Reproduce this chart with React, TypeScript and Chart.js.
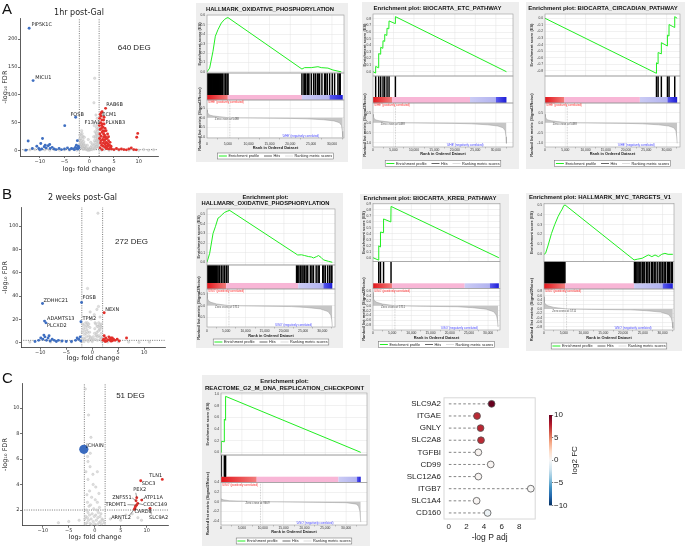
import React, { useEffect, useRef } from 'react';
import { Chart, registerables } from 'chart.js';

Chart.register(...registerables);

type P = [number, number];
type Lab = [string, number, number];

// ---------------- Volcano A (1hr post-Gal) ----------------
const volA_grey: P[] = [
  [-1.95, 20], [-1.9, 28], [-1.85, 7], [-1.8, 22], [-1.75, 16], [-1.7, 30], [-1.65, 11], [-1.6, 18], [-1.55, 36], [-1.5, 25],
  [-1.45, 31], [-1.4, 14], [-1.35, 5], [-1.3, 20], [-1.25, 26], [-1.2, 10], [-1.15, 3], [-1.1, 16], [-1.05, 12], [-1.0, 24],
  [-0.95, 6], [-0.9, 3], [-0.8, 5], [-0.7, 9], [-0.6, 2], [-0.5, 4], [-0.4, 10], [-0.3, 1], [-0.2, 2], [-0.1, 5], [0, 1],
  [0.1, 3], [0.2, 2], [0.3, 6], [0.4, 3], [0.5, 9], [0.6, 2], [0.7, 12], [0.8, 4], [0.9, 25], [1.0, 6], [1.0, 45], [1.05, 18],
  [1.1, 10], [1.15, 34], [1.2, 15], [0.95, 86], [1.25, 26], [1.3, 22], [1.35, 5], [1.4, 30], [1.1, 130], [1.45, 42], [1.5, 18],
  [1.5, 8], [1.55, 38], [1.6, 26], [1.6, 58], [1.65, 17], [1.7, 35], [1.7, 12], [1.75, 8], [1.8, 20], [1.8, 50], [1.85, 14],
  [1.9, 40], [1.9, 6], [1.95, 28], [-1.9, 12], [-1.7, 8], [-1.5, 5], [-1.3, 3], [-1.6, 12], [-1.4, 6], [-1.2, 4], [-1.0, 8],
  [1.1, 3], [1.3, 11], [1.5, 31], [1.7, 23], [1.9, 16], [1.6, 47], [1.35, 64], [-0.2, 20], [0.3, 15],
  [-13, 1], [-12, 1.5], [-11, 2], [-10, 1], [-9, 1.5], [-8, 1], [-7, 2], [-6, 1], [-5, 1.5], [-4, 1], [-3, 2], [-2.5, 1],
  [2.5, 1], [3, 2], [4, 1], [5, 1.5], [6, 1], [7, 2], [8, 1], [9, 1.5], [10, 1], [11, 2], [12, 1], [13, 1.5],
];
const volA_blue: P[] = [
  [-12.15, 219.7], [-11.35, 125.7], [-2.75, 60], [-4.96, 44.9], [-12.35, 17.4], [-9.45, 22],
  [-9.8, 13], [-10.6, 8], [-11.5, 4], [-10.2, 4], [-9.6, 3], [-9.1, 7], [-8.7, 5], [-8.3, 9], [-7.9, 4], [-7.5, 6],
  [-7.1, 3], [-6.7, 2], [-6.1, 4], [-5.6, 2], [-5.0, 3], [-4.4, 5], [-4.0, 2], [-3.6, 4], [-3.2, 3], [-2.8, 6], [-2.5, 4],
  [-2.2, 8], [-2.6, 10], [-3.0, 2], [-2.3, 3], [-10.0, 2], [-12.8, 1], [-8.0, 11], [-8.9, 10], [-2.4, 18], [-2.1, 5],
];
const volA_red: P[] = [
  [3.3, 76], [2.43, 68], [2.6, 70], [2.2, 65], [3.0, 60], [2.4, 62], [2.1, 58], [2.9, 55], [2.55, 55], [2.3, 50], [2.65, 48],
  [3.0, 48], [2.5, 45], [2.05, 45], [2.8, 42], [3.2, 40], [2.45, 40], [2.2, 38], [3.7, 30], [3.4, 36], [2.75, 36], [3.05, 35],
  [2.6, 33], [2.9, 30], [2.15, 30], [3.1, 28], [2.4, 26], [3.3, 25], [2.95, 24], [3.6, 22], [2.1, 22], [3.25, 20], [2.7, 20],
  [3.0, 18], [2.35, 18], [3.9, 18], [3.4, 15], [2.85, 14], [3.55, 14], [2.3, 14], [3.8, 12], [3.15, 12], [2.5, 10], [4.1, 10],
  [3.35, 9], [2.8, 8], [3.75, 8], [3.2, 6], [4.3, 6], [2.2, 5], [3.6, 4], [3.45, 4], [4.0, 3], [2.6, 2], [4.5, 3], [5.0, 2],
  [5.5, 4], [6.0, 2], [6.5, 3], [7.0, 2], [7.5, 1.5], [8.0, 3], [8.5, 5], [9.0, 2], [9.5, 1.5], [9.8, 31], [9.6, 24],
  [4.2, 15], [3.9, 25], [4.4, 8],
];
const volA_labels: Lab[] = [
  ['PIP5K1C', -11.7, 226], ['MICU1', -10.9, 131], ['FOSB', -3.8, 64], ['RAB6B', 3.43, 82],
  ['ECM1', 2.63, 64], ['F13A1', -0.94, 51], ['PLXNB3', 3.3, 51],
];
const volA_deg: Lab = ['640 DEG', 5.77, 185];
const volA_yTicks = [0, 50, 100, 150, 200];

// ---------------- Volcano B (2 weeks post-Gal) ----------------
const volB_grey: P[] = [
  [-1.85, 16], [-1.8, 2], [-1.7, 12], [-1.65, 4], [-1.6, 15], [-1.5, 7], [-1.45, 10], [-1.4, 3], [-1.3, 13], [-1.25, 17],
  [-1.2, 8], [-1.1, 5], [-1.05, 15], [-1.0, 11], [-0.95, 17], [-0.9, 2], [-0.85, 9], [-0.8, 14], [-0.7, 6], [-0.65, 16],
  [-0.6, 3], [-0.5, 9], [-0.45, 13], [-0.4, 5], [-0.3, 4], [-1.9, 9], [-1.55, 1], [-0.75, 1],
  [0.45, 8], [0.5, 12], [0.55, 17], [0.6, 3], [0.7, 16], [0.75, 6], [0.8, 7], [0.9, 9], [0.95, 14], [1.0, 2], [1.05, 5],
  [1.1, 14], [1.2, 10], [1.25, 17], [1.3, 6], [1.35, 12], [1.4, 15], [1.5, 11], [1.55, 3], [1.6, 5], [1.65, 14], [1.7, 16],
  [1.75, 8], [1.8, 13], [1.85, 1], [1.9, 4],
  [1.1, 111], [-0.9, 46.5], [0.9, 28.5], [1.2, 31], [-0.4, 26.4], [0.4, 24], [1.5, 22], [-0.2, 20],
  [0, 1], [0.1, 3], [-0.1, 2], [0.2, 5],
  [-12, 0.5], [-8, 0.5], [-6, 0.8], [-4, 0.5], [3, 0.5], [5, 0.8], [7, 0.5], [9, 0.3], [11, 0.5],
];
const volB_blue: P[] = [
  [-9.56, 33.6], [-9.17, 18.5], [-8.9, 17], [-2.05, 34.5], [-2.17, 17.9],
  [-10.3, 2], [-9.9, 4], [-9.5, 3], [-9.1, 5], [-8.8, 2], [-8.5, 4], [-8.1, 1.5], [-7.7, 3], [-7.3, 2], [-6.9, 1],
  [-6.5, 2], [-5.8, 1.5], [-5.0, 1], [-3.2, 2], [-2.9, 4], [-2.6, 3], [-2.3, 5], [-2.2, 1.5], [-11, 1], [-4, 1],
  [-8.3, 6], [-9.3, 6.5],
];
const volB_red: P[] = [
  [2.3, 25.6], [3.4, 2.5], [3.5, 3], [3.6, 2], [3.7, 3.5], [3.8, 2.5], [3.9, 3], [4.0, 2], [3.6, 4], [3.75, 1.5],
  [3.55, 1.5], [3.85, 4], [4.1, 3], [3.65, 2.8], [3.7, 2], [3.8, 3.2], [2.2, 3], [2.4, 2], [2.6, 4], [2.8, 1.5],
  [3.0, 2.5], [3.2, 5], [4.4, 2], [4.8, 3], [5.2, 1.5], [6.6, 4], [2.3, 6], [2.5, 1], [2.1, 2],
];
const volB_labels: Lab[] = [
  ['ZDHHC21', -9.36, 35.6], ['ADAMTS13', -8.7, 20.8], ['PLCXD2', -8.7, 14.4],
  ['FOSB', -1.86, 38.5], ['TPM2', -1.86, 20.8], ['NEXN', 2.5, 27.9],
];
const volB_deg: Lab = ['272 DEG', 4.4, 86.5];
const volB_yTicks = [0, 20, 40, 60, 80, 100];

// ---------------- Volcano C ----------------
const volC_grey: P[] = [
  [-1.82, 11.5], [-1.2, 9.45], [-0.73, 7.7], [-0.86, 6.45], [-1.38, 6.2], [-1.3, 5.8], [-0.9, 5.4], [-1.7, 5.0], [-0.35, 4.8],
  [-1.3, 4.4], [0.5, 5.0], [-0.3, 4.0], [0.2, 3.8], [-1.0, 3.5], [-1.5, 3.2], [0.8, 3.3], [-0.6, 3.0], [0.1, 2.8], [-1.4, 2.6],
  [0.5, 2.6], [-0.8, 2.4], [-1.1, 2.3], [0.9, 2.2], [-0.2, 2.1], [-1.6, 2.0], [0.4, 2.0], [-1.3, 1.8], [0.7, 1.8], [-0.5, 1.7],
  [1.2, 1.7], [-1.0, 1.6], [0.2, 1.6], [-1.7, 1.5], [-0.1, 1.5], [1.0, 1.5], [-1.4, 1.4], [0.6, 1.4], [-0.7, 1.3], [1.4, 1.3],
  [-1.2, 1.2], [0.3, 1.2], [-0.3, 1.1], [1.1, 1.1], [-1.5, 1.0], [0.8, 1.0], [-0.9, 0.95], [0.0, 0.9], [1.3, 0.9], [-1.8, 0.9],
  [-0.6, 0.85], [0.5, 0.85], [1.6, 1.2], [1.8, 1.0], [-1.9, 1.3],
  [3, 1.3], [4, 1.5], [5, 1.2], [6, 1.6], [7.2, 1.7], [8.3, 1.4], [9, 1.2], [-3, 1.2], [-5, 1.1], [-7, 1.0],
];
const volC_blue: P[] = [[-2.1, 6.76]];
const volC_red: P[] = [
  [13.0, 4.4], [8.85, 4.3], [8.08, 2.97], [9.04, 2.78], [7.95, 2.73], [8.27, 2.52], [8.08, 2.39], [7.76, 2.16],
  [7.63, 2.06], [10.63, 2.13], [7.85, 2.3],
];
const volC_labels: Lab[] = [
  ['JCHAIN', -1.63, 7.02], ['TLN1', 10.5, 4.67], ['SDC3', 9.04, 4.1], ['PEX2', 7.43, 3.57], ['ATP11A', 9.48, 3.0],
  ['ZNF551', 3.35, 3.0], ['CCDC149', 9.35, 2.39], ['TRDMT1', 2.07, 2.45], ['CARD8', 7.63, 1.84],
  ['ARNTL2', 3.16, 1.4], ['SLC9A2', 10.44, 1.4],
];
const volC_leaders: [number, number, number, number][] = [
  [7.9, 3.35, 8.08, 2.97], [7.2, 2.95, 7.95, 2.73], [6.3, 2.42, 8.08, 2.39], [9.3, 2.42, 8.27, 2.52],
  [6.6, 1.55, 7.63, 2.06], [10.9, 1.65, 10.63, 2.13], [7.9, 2.0, 7.76, 2.16], [9.45, 2.95, 9.04, 2.78],
];
const volC_deg: Lab = ['51 DEG', 4.12, 10.96];
const volC_yTicks = [2, 4, 6, 8, 10];
const volXTicks = [-10, -5, 0, 5, 10];

// ---------------- GSEA curves ----------------
const gA1_es: P[] = [[0, 0], [640, 0.04], [1440, 0.22], [2000, 0.38], [2640, 0.45], [3440, 0.52], [4240, 0.56], [4800, 0.575],
  [5040, 0.578], [22800, 0.03], [23440, 0.045], [25040, 0.045], [26640, 0.055], [27440, 0.045], [29040, 0.04], [30240, 0.02], [32240, 0]];
const gA1_hits: number[] = [40, 190, 330, 520, 610, 780, 905, 1080, 1220, 1390, 1530, 1660, 1850, 1990, 2140, 2310, 2450, 2600,
  2790, 2930, 3100, 3260, 3420, 3700, 4090, 4470, 4810, 5050, 22800, 23280, 23450, 23680, 24080, 24300, 24480, 25040, 25600,
  26000, 26480, 26700, 27040, 27600, 28240, 28500, 28880, 29440, 30080, 30640, 31440, 31800, 32000];
const gA2_es: P[] = [[0, 0], [600, -0.02], [650, 0.08], [1340, 0.06], [1390, 0.275], [1830, 0.265], [1880, 0.37], [2400, 0.355],
  [2450, 0.47], [2810, 0.46], [2860, 0.565], [3380, 0.55], [3430, 0.66], [3870, 0.65], [3920, 0.77], [5420, 0.73], [5470, 0.835], [32600, 0]];
const gA2_hits: number[] = [650, 1390, 1880, 2450, 2860, 3430, 3920, 5470];
const gA3_es: P[] = [[0, 0], [27480, -0.835], [27500, -0.675], [27880, -0.69], [27900, -0.52], [28680, -0.54], [28700, -0.37],
  [30180, -0.42], [30200, -0.255], [30580, -0.27], [30600, -0.095], [31980, -0.14], [32000, 0.025], [32600, 0]];
const gA3_hits: number[] = [27500, 27900, 28700, 30200, 30600, 32000];
const gA_rank: P[] = [[0, 0.42], [100, 0.3], [300, 0.2], [700, 0.14], [1500, 0.1], [3000, 0.06], [5488, 0], [10000, -0.01],
  [20000, -0.03], [24000, -0.05], [28000, -0.1], [30500, -0.16], [31800, -0.25], [32300, -0.4], [32500, -0.7], [32600, -1.02]];

const gB1_es: P[] = [[0, 0], [700, 0.094], [1570, 0.3], [2175, 0.37], [2870, 0.46], [3300, 0.47], [3740, 0.49], [4610, 0.52],
  [5480, 0.535], [5700, 0.545], [23600, 0.076], [24600, 0.078], [25400, 0.07], [26360, 0.06], [27200, 0.055], [27700, 0.045],
  [28540, 0.06], [29000, 0.07], [29700, 0.05], [30300, 0.025], [31600, 0.01], [32600, 0]];
const gB1_hits: number[] = [30, 150, 290, 400, 560, 690, 820, 960, 1080, 1230, 1350, 1500, 1640, 1760, 1900, 2050, 2180, 2330,
  2470, 2620, 2900, 3300, 3740, 4170, 4610, 5050, 5480, 23300, 23600, 23900, 24300, 24700, 25000, 25400, 25800, 26200, 26900,
  27300, 27700, 28400, 28900, 29200, 30100, 30400, 30800, 31400, 31900, 32300, 32500];
const gB2_es: P[] = [[0, 0], [1450, -0.04], [1500, 0.2], [1900, 0.18], [1950, 0.43], [2700, 0.42], [2750, 0.65], [4650, 0.6],
  [4700, 0.86], [32800, 0]];
const gB2_hits: number[] = [1500, 1950, 2750, 4700];
const gB3_es: P[] = [[0, 0], [400, 0.01], [1070, 0.095], [1890, 0.21], [2700, 0.3], [3530, 0.38], [4180, 0.43], [4500, 0.45],
  [5000, 0.493], [5330, 0.5], [22800, -0.057], [23600, -0.05], [24850, -0.04], [26100, -0.013], [26500, -0.007], [27300, -0.024],
  [28100, -0.007], [28950, -0.024], [29800, 0.0], [30600, 0.01], [31400, 0.0], [32600, 0]];
const gB3_hits: number[] = [20, 160, 300, 470, 600, 760, 900, 1050, 1200, 1330, 1490, 1620, 1780, 1930, 2060, 2210, 2380, 2520,
  2650, 2810, 2950, 3100, 3260, 3400, 3560, 3700, 3850, 4010, 4160, 4300, 4470, 4620, 4780, 4950, 5100, 5300, 22900, 23200,
  23500, 23800, 24100, 24500, 24900, 25100, 25500, 26000, 26300, 26700, 27200, 27500, 27900, 28300, 28800, 29300, 29600, 30000,
  30400, 30700, 31200, 31500, 31800, 32200, 32500];
const gB_rank: P[] = [[0, 0.55], [100, 0.3], [400, 0.2], [1000, 0.14], [2500, 0.07], [5711, 0], [12000, -0.02], [22000, -0.04],
  [26000, -0.08], [29500, -0.14], [31500, -0.25], [32200, -0.4], [32450, -0.6], [32600, -0.88]];

const gC_es: P[] = [[0, 0], [70, 0], [90, 0.19], [780, 0.18], [800, 0.57], [1080, 0.55], [1100, 0.96], [33500, 0]];
const gC_hits: number[] = [90, 800, 1000, 1100];
const gC_rank: P[] = [[0, 0.06], [500, 0.04], [2000, 0.02], [9469, 0], [20000, -0.01], [30000, -0.02], [32500, -0.05],
  [33000, -0.1], [33300, -0.2], [33500, -0.42]];

// colour-bar boundaries (rank where red ends, pink ends, lavender ends, blue ends)
const gA1_bar = [5000, 22800, 29400, 32600];
const gA2_bar = [4650, 23700, 30000, 32600];
const gA3_bar = [4800, 23400, 30200, 32600];
const gB1_bar = [5000, 23750, 30270, 32600];
const gB2_bar = [4960, 23900, 30450, 32800];
const gB3_bar = [5330, 22800, 30000, 32600];
const gC_bar = [8560, 28160, 32560, 33500];
const zeroA = 5488;
const zeroB = 5711;
const zeroC = 9469;

// tick labels
const gXTicks = [0, 5000, 10000, 15000, 20000, 25000, 30000];
const esTicksA1 = [0, 0.1, 0.2, 0.3, 0.4, 0.5, 0.6];
const esTicksA2 = [0, 0.1, 0.2, 0.3, 0.4, 0.5, 0.6, 0.7, 0.8];
const esTicksA3 = [-0.8, -0.7, -0.6, -0.5, -0.4, -0.3, -0.2, -0.1, 0];
const esTicksB1 = [0, 0.1, 0.2, 0.3, 0.4, 0.5];
const esTicksB2 = [0, 0.1, 0.2, 0.3, 0.4, 0.5, 0.6, 0.7, 0.8, 0.9];
const esTicksB3 = [0, 0.1, 0.2, 0.3, 0.4, 0.5];
const esTicksC = [0, 0.2, 0.4, 0.6, 0.8, 1.0];
const rkTicksA = [-1.0, -0.5, 0, 0.5];
const rkTicksB1 = [-0.5, 0, 0.5];
const rkTicksB2 = [-0.8, -0.6, -0.4, -0.2, 0, 0.2, 0.4, 0.6];
const rkTicksB3 = [-0.8, -0.6, -0.4, -0.2, 0, 0.2, 0.4, 0.6, 0.8];
const rkTicksC = [-0.4, -0.2, 0, 0.2, 0.4];

// ---------------- Lollipop ----------------
const lolGenes = ['SLC9A2', 'ITGAE', 'GNLY', 'SLC2A8', 'TGFBI', 'CD99', 'SLC12A6', 'ITGB7', 'SLC1A4', 'CD160'];
const lolNegLogP = [4.85, 3.2, 3.6, 3.65, 3.35, 4.75, 3.35, 9.3, 3.15, 4.4];
const lolLog2FC = [10, 7.5, 7.6, 7.5, 0.3, 0.2, 0.2, 0.1, 0.2, -0.6];
const lolXTicks = [0, 2, 4, 6, 8];
const cbTicks = [-10, -5, 0, 5, 10];

// ---------------- styling ----------------
const FV = 'DejaVu Sans';
const FS = 'Liberation Sans';
const BAR_COLORS = [['#e3161b', '#f27d7d'], ['#f8b6d6', '#f8b6d6'], ['#cbcbf4', '#b2b3f0'], ['#5b5bef', '#1d1dd6']];
const RDBU = ['#053061', '#2166ac', '#4393c3', '#92c5de', '#d1e5f0', '#f7f7f7', '#fddbc7', '#f4a582', '#d6604d', '#b2182b', '#67001f'];

const xy = (a: P[]) => a.map(([x, y]) => ({ x, y }));
const minus = (v: any) => (Number(v) < 0 ? '\u2212' + Math.abs(Number(v)) : String(v));
const fixTicks = (arr: number[]) => (s: any) => { s.ticks = arr.map((value) => ({ value })); };
const hex = (h: string) => [1, 3, 5].map((i) => parseInt(h.slice(i, i + 2), 16));
function rdbu(v: number) {
  const t = Math.min(1, Math.max(0, (v + 10) / 20)) * 10;
  const i = Math.min(9, Math.floor(t));
  const f = t - i;
  const a = hex(RDBU[i]);
  const b = hex(RDBU[i + 1]);
  return `rgb(${a.map((c, k) => Math.round(c + (b[k] - c) * f)).join(',')})`;
}

const base = { responsive: false, animation: false, events: [] as any[] };

// ---------------- Volcano ----------------
function annot(v: any) {
  return {
    id: 'annot',
    afterDatasetsDraw(chart: any) {
      const { ctx, scales } = chart;
      const x = scales.x, y = scales.y;
      ctx.save();
      ctx.strokeStyle = '#333';
      ctx.lineWidth = 0.5;
      for (const [x1, y1, x2, y2] of v.leaders || []) {
        ctx.beginPath();
        ctx.moveTo(x.getPixelForValue(x1), y.getPixelForValue(y1));
        ctx.lineTo(x.getPixelForValue(x2), y.getPixelForValue(y2));
        ctx.stroke();
      }
      ctx.fillStyle = '#222';
      ctx.font = `5px "${FV}"`;
      ctx.textBaseline = 'middle';
      ctx.textAlign = 'left';
      for (const [t, lx, ly] of v.labels) ctx.fillText(t, x.getPixelForValue(lx), y.getPixelForValue(ly));
      ctx.font = `8px "${FS}"`;
      ctx.fillText(v.deg[0], x.getPixelForValue(v.deg[1]), y.getPixelForValue(v.deg[2]));
      ctx.restore();
    },
  };
}

function volcano(v: any) {
  const thr = (pts: P[]) => ({ data: xy(pts), showLine: true, borderColor: '#555', borderWidth: 0.8, borderDash: [1, 1.3], pointRadius: 0 });
  const datasets: any[] = [];
  if (v.big) datasets.push({ data: xy(v.big), pointRadius: 4.6, backgroundColor: '#3a6bbf', borderWidth: 0 });
  datasets.push(
    { data: xy(v.red), pointRadius: 1.45, backgroundColor: '#e2302b', borderWidth: 0 },
    { data: xy(v.blue), pointRadius: 1.45, backgroundColor: '#3f6fc1', borderWidth: 0 },
    { data: xy(v.grey), pointRadius: 1.25, backgroundColor: 'rgba(212,212,212,0.75)', borderColor: 'rgba(165,165,165,0.7)', borderWidth: 0.3 },
    thr([[-2, v.yMin], [-2, v.yMax]]),
    thr([[2, v.yMin], [2, v.yMax]]),
    thr([[v.xMin, v.hLine], [v.xMax, v.hLine]]),
  );
  const tickFont = { family: FV, size: 5 };
  return {
    type: 'scatter',
    data: { datasets },
    options: {
      ...base,
      layout: { padding: v.pad },
      plugins: {
        legend: { display: false },
        tooltip: { enabled: false },
        title: v.title
          ? { display: true, text: v.title, color: '#222', font: { family: FV, size: 8, weight: 'normal', lineHeight: 1 }, padding: v.titlePad }
          : { display: false },
      },
      scales: {
        x: {
          type: 'linear', min: v.xMin, max: v.xMax,
          afterBuildTicks: fixTicks(volXTicks),
          ticks: { font: tickFont, color: '#333', padding: 0.5, maxRotation: 0, autoSkip: false, callback: minus },
          grid: { display: true, drawOnChartArea: false, tickLength: 2, color: '#333', lineWidth: 0.7 },
          border: { display: true, color: '#333', width: 0.8 },
          title: { display: true, text: 'log\u2082 fold change', color: '#222', font: { family: FV, size: 6.5, lineHeight: 1 }, padding: { top: 0, bottom: 2 } },
          afterFit: (s: any) => { s.height = v.xH; },
        },
        y: {
          type: 'linear', min: v.yMin, max: v.yMax,
          afterBuildTicks: fixTicks(v.yTicks),
          ticks: { font: tickFont, color: '#333', padding: 0.5, autoSkip: false, callback: minus },
          grid: { display: true, drawOnChartArea: false, tickLength: 2, color: '#333', lineWidth: 0.7 },
          border: { display: true, color: '#333', width: 0.8 },
          title: { display: true, text: '-log\u2081\u2080 FDR', color: '#222', font: { family: FV, size: 6.5, lineHeight: 1 }, padding: { top: 1.8, bottom: 0 } },
          afterFit: (s: any) => { s.width = v.yW; },
        },
      },
    },
    plugins: [annot(v)],
  };
}

const VA = {
  grey: volA_grey, blue: volA_blue, red: volA_red, labels: volA_labels, deg: volA_deg, yTicks: volA_yTicks,
  xMin: -14, xMax: 13.9, yMin: -9.5, yMax: 238, hLine: 2,
  title: '1hr post-Gal', titlePad: { top: 9.3, bottom: 0.7 }, pad: { left: 0, top: 0, right: 17, bottom: 0 }, yW: 20, xH: 19,
};
const VB = {
  grey: volB_grey, blue: volB_blue, red: volB_red, labels: volB_labels, deg: volB_deg, yTicks: volB_yTicks,
  xMin: -13.7, xMax: 14.0, yMin: -4.3, yMax: 116.3, hLine: 2,
  title: '2 weeks post-Gal', titlePad: { top: 8.3, bottom: 4.7 }, pad: { left: 0, top: 0, right: 10, bottom: 0 }, yW: 21, xH: 16.3,
};
const VC = {
  grey: volC_grey, blue: [] as P[], big: volC_blue, red: volC_red, labels: volC_labels, leaders: volC_leaders, deg: volC_deg, yTicks: volC_yTicks,
  xMin: -14, xMax: 14.1, yMin: 0.77, yMax: 11.94, hLine: 2,
  title: '', pad: { left: 0, top: 13.3, right: 7, bottom: 0 }, yW: 22, xH: 17.3,
};

// ---------------- GSEA ----------------
function gseaPlugin(g: any) {
  return {
    id: 'gsea',
    beforeDraw(chart: any) {
      const { ctx, chartArea: a, width, height } = chart;
      ctx.save();
      ctx.fillStyle = '#eeeeee';
      ctx.fillRect(0, 0, width, height);
      ctx.fillStyle = '#ffffff';
      ctx.fillRect(a.left, a.top, a.right - a.left, a.bottom - a.top);
      ctx.restore();
    },
    beforeDatasetsDraw(chart: any) {
      const { ctx, scales: s } = chart;
      const x = s.x, yE = s.yES, yB = s.yBar, yR = s.yRank;
      ctx.save();
      ctx.strokeStyle = '#e3e3e3';
      ctx.lineWidth = 0.5;
      ctx.beginPath();
      for (const t of x.ticks) {
        const px = x.getPixelForValue(t.value);
        ctx.moveTo(px, yE.top); ctx.lineTo(px, yE.bottom);
        ctx.moveTo(px, yR.top); ctx.lineTo(px, yR.bottom);
      }
      ctx.stroke();
      const edges = [0, ...g.bar];
      for (let i = 0; i < 4; i++) {
        const x1 = x.getPixelForValue(edges[i]);
        const x2 = x.getPixelForValue(edges[i + 1]);
        const gr = ctx.createLinearGradient(x1, 0, x2, 0);
        gr.addColorStop(0, BAR_COLORS[i][0]);
        gr.addColorStop(1, BAR_COLORS[i][1]);
        ctx.fillStyle = gr;
        ctx.fillRect(x1, yB.top, x2 - x1, yB.bottom - yB.top);
      }
      const zx = x.getPixelForValue(g.zero);
      ctx.strokeStyle = '#999';
      ctx.setLineDash([0.8, 0.8]);
      ctx.beginPath(); ctx.moveTo(zx, yR.top); ctx.lineTo(zx, yR.bottom); ctx.stroke();
      ctx.setLineDash([]);
      ctx.restore();
    },
    afterDatasetsDraw(chart: any) {
      const { ctx, chartArea: a, scales: s } = chart;
      const x = s.x, yE = s.yES, yH = s.yHit, yB = s.yBar, yR = s.yRank;
      ctx.save();
      ctx.strokeStyle = '#9c9c9c';
      ctx.lineWidth = 0.6;
      const rects = [[yE.top, yE.bottom], [yH.top, yB.bottom], [yR.top, yR.bottom]];
      for (const [t, b] of rects) ctx.strokeRect(a.left, t, a.right - a.left, b - t);
      ctx.font = `2.9px "${FS}"`;
      ctx.textBaseline = 'middle';
      ctx.fillStyle = '#ff2a2a'; ctx.textAlign = 'left';
      ctx.fillText(g.pos, a.left + 1, yR.top + 2.5);
      ctx.fillStyle = '#4646ff'; ctx.textAlign = 'center';
      ctx.fillText(g.neg, x.getPixelForValue(22500), yR.bottom - 2);
      ctx.fillStyle = '#555'; ctx.textAlign = 'left';
      ctx.fillText('Zero cross at ' + g.zero, x.getPixelForValue(g.zero - 3600), yR.getPixelForValue(0) + 1.8);
      ctx.fillStyle = '#333';
      ctx.font = `bold 4px "${FS}"`;
      ctx.textAlign = 'center';
      const rot = (t: string, cy: number) => {
        ctx.save(); ctx.translate(g.yTX, cy); ctx.rotate(-Math.PI / 2); ctx.fillText(t, 0, 0); ctx.restore();
      };
      rot('Enrichment score (ES)', (yE.top + yE.bottom) / 2);
      rot('Ranked list metric (Signal2Noise)', (yR.top + yR.bottom) / 2);
      ctx.restore();
    },
    afterDraw(chart: any) {
      const { ctx, chartArea: a } = chart;
      ctx.save();
      ctx.font = `3.8px "${FS}"`;
      ctx.textBaseline = 'middle';
      ctx.textAlign = 'left';
      const items: [string, string, number][] = [['#22ee22', 'Enrichment profile', 1], ['#000000', 'Hits', 0.6], ['#c4c4c4', 'Ranking metric scores', 0.6]];
      const lw = 8, gap = 1.5, sep = 5, pad = 1.2;
      const ws = items.map((i) => ctx.measureText(i[1]).width);
      let total = pad * 2;
      ws.forEach((w, i) => { total += lw + gap + w + (i ? sep : 0); });
      const cy = g.legY;
      let cx = (a.left + a.right) / 2 - total / 2;
      ctx.strokeStyle = '#666'; ctx.lineWidth = 0.5;
      ctx.fillStyle = '#fff';
      ctx.fillRect(cx, cy - 3, total, 6);
      ctx.strokeRect(cx, cy - 3, total, 6);
      cx += pad;
      items.forEach(([col, t, w], i) => {
        if (i) cx += sep;
        ctx.strokeStyle = col; ctx.lineWidth = w;
        ctx.beginPath(); ctx.moveTo(cx, cy); ctx.lineTo(cx + lw, cy); ctx.stroke();
        cx += lw + gap;
        ctx.fillStyle = '#222';
        ctx.fillText(t, cx, cy);
        cx += ws[i];
      });
      ctx.restore();
    },
  };
}

function gsea(g: any) {
  const tickFont = { family: FS, size: 3.3 };
  const yCommon = (w: number) => ({
    type: 'linear', position: 'left', stack: 'g', stackWeight: w, border: { display: false },
    afterFit: (s: any) => { s.width = g.yW; },
  });
  const hidden = (w: number) => ({ ...yCommon(w), min: 0, max: 1, ticks: { display: false }, grid: { display: false, drawTicks: false } });
  const valAxis = (w: number, r: number[], ticks: number[]) => ({
    ...yCommon(w), min: r[0], max: r[1],
    afterBuildTicks: fixTicks(ticks),
    ticks: { autoSkip: false, font: tickFont, color: '#333', padding: 0.5, callback: (v: any) => Number(v).toFixed(1) },
    grid: { color: '#e3e3e3', lineWidth: 0.5, tickLength: 1.5 },
  });
  return {
    type: 'line',
    data: {
      datasets: [
        { type: 'line', data: xy(g.es), yAxisID: 'yES', borderColor: '#22ee22', borderWidth: 1, pointRadius: 0, tension: 0, fill: false },
        { type: 'bar', data: g.hits.map((h: number) => ({ x: h, y: [0, 1] })), yAxisID: 'yHit', backgroundColor: '#000', barThickness: 0.8, borderWidth: 0 },
        { type: 'line', data: xy(g.rank), yAxisID: 'yRank', borderColor: '#9a9a9a', borderWidth: 0.5, backgroundColor: '#c6c6c6', fill: 'origin', pointRadius: 0, tension: 0 },
      ],
    },
    options: {
      ...base,
      layout: { padding: { left: 0, top: 0, right: g.padR, bottom: g.legH } },
      plugins: {
        legend: { display: false },
        tooltip: { enabled: false },
        title: { display: true, text: g.title, color: '#111', font: { family: FS, size: g.tSize, weight: 'bold', lineHeight: 1.1 }, padding: { top: g.tPad[0], bottom: g.tPad[1] } },
      },
      scales: {
        x: {
          type: 'linear', min: 0, max: g.xMax, offset: false,
          afterBuildTicks: fixTicks(gXTicks),
          ticks: { autoSkip: false, font: tickFont, color: '#333', padding: g.xTP, maxRotation: 0, callback: (v: any) => Number(v).toLocaleString('en-US') },
          grid: { display: true, drawOnChartArea: false, tickLength: 1.5, color: '#888', lineWidth: 0.5 },
          border: { display: false },
          title: { display: true, text: 'Rank in Ordered Dataset', color: '#222', font: { family: FS, size: 3.9, weight: 'bold', lineHeight: 1 }, padding: { top: 0, bottom: g.xTB } },
          afterFit: (s: any) => { s.height = g.xH; },
        },
        yRank: valAxis(g.w[3], g.rankAxis, g.rankTicks),
        yBar: hidden(g.w[2]),
        yHit: hidden(g.w[1]),
        yES: valAxis(g.w[0], g.esAxis, g.esTicks),
      },
    },
    plugins: [gseaPlugin(g)],
  };
}

const GA1 = { box: [196, 3, 152, 159], title: 'HALLMARK_OXIDATIVE_PHOSPHORYLATION', tSize: 5.8, tPad: [3, 2.6], yW: 11, padR: 4, legH: 10, xH: 14, xTP: 2.5, xTB: 1.75,
  w: [58, 22, 5, 38], xMax: 32900, es: gA1_es, hits: gA1_hits, rank: gA_rank, esAxis: [-0.012, 0.606], rankAxis: [-1.05, 0.93], esTicks: esTicksA1, rankTicks: rkTicksA,
  bar: gA1_bar, zero: zeroA, pos: "'0/HE' (positively correlated)", neg: "'0/HE' (negatively correlated)", yTX: 4, legY: 153 };
const GA2 = { box: [362, 2, 157, 167], title: 'Enrichment plot: BIOCARTA_ETC_PATHWAY', tSize: 6, tPad: [3, 2.4], yW: 11, padR: 6, legH: 8, xH: 14, xTP: 0, xTB: 5,
  w: [62, 21, 6, 44], xMax: 34200, es: gA2_es, hits: gA2_hits, rank: gA_rank, esAxis: [-0.065, 0.875], rankAxis: [-1.2, 0.98], esTicks: esTicksA2, rankTicks: rkTicksA,
  bar: gA2_bar, zero: zeroA, pos: "'0/HE' (positively correlated)", neg: "'0/HE' (negatively correlated)", yTX: 3, legY: 161.5 };
const GA3 = { box: [526, 2, 159, 167], title: 'Enrichment plot: BIOCARTA_CIRCADIAN_PATHWAY', tSize: 6, tPad: [3, 2.4], yW: 19, padR: 5, legH: 8, xH: 14, xTP: 0, xTB: 5,
  w: [62, 21, 6, 44], xMax: 33300, es: gA3_es, hits: gA3_hits, rank: gA_rank, esAxis: [-0.876, 0.065], rankAxis: [-1.2, 0.98], esTicks: esTicksA3, rankTicks: rkTicksA,
  bar: gA3_bar, zero: zeroA, pos: "'0/HE' (positively correlated)", neg: "'0/HE' (negatively correlated)", yTX: 5.7, legY: 161.5 };
const GB1 = { box: [196, 193, 147, 155], title: ['Enrichment plot:', 'HALLMARK_OXIDATIVE_PHOSPHORYLATION'], tSize: 5.8, tPad: [1, 2.2], yW: 11, padR: 8, legH: 10, xH: 11, xTP: 0.9, xTB: 0,
  w: [56, 18, 6, 38], xMax: 33300, es: gB1_es, hits: gB1_hits, rank: gB_rank, esAxis: [-0.028, 0.555], rankAxis: [-0.9, 0.7], esTicks: esTicksB1, rankTicks: rkTicksB1,
  bar: gB1_bar, zero: zeroB, pos: "'0/SO' (positively correlated)", neg: "'0/SO' (negatively correlated)", yTX: 3, legY: 149 };
const GB2 = { box: [360, 194, 149, 154], title: 'Enrichment plot: BIOCARTA_KREB_PATHWAY', tSize: 6, tPad: [1.5, 1.4], yW: 13, padR: 9, legH: 7, xH: 11, xTP: 0, xTB: 1.35,
  w: [58.2, 21.6, 5, 41.7], xMax: 33100, es: gB2_es, hits: gB2_hits, rank: gB_rank, esAxis: [-0.067, 0.909], rankAxis: [-1.0, 0.72], esTicks: esTicksB2, rankTicks: rkTicksB2,
  bar: gB2_bar, zero: zeroB, pos: "'0/SO' (positively correlated)", neg: "'0/SO' (negatively correlated)", yTX: 4, legY: 150.5 };
const GB3 = { box: [526, 193, 156, 158], title: 'Enrichment plot: HALLMARK_MYC_TARGETS_V1', tSize: 6, tPad: [1.5, 2.4], yW: 18, padR: 8, legH: 9, xH: 12, xTP: 0, xTB: 2.35,
  w: [58.2, 21.6, 5.7, 41], xMax: 32900, es: gB3_es, hits: gB3_hits, rank: gB_rank, esAxis: [-0.075, 0.515], rankAxis: [-0.95, 0.9], esTicks: esTicksB3, rankTicks: rkTicksB3,
  bar: gB3_bar, zero: zeroB, pos: "'0/SO' (positively correlated)", neg: "'0/SO' (negatively correlated)", yTX: 6.3, legY: 153 };
const GC = { box: [202, 375, 168, 171], title: ['Enrichment plot:', 'REACTOME_G2_M_DNA_REPLICATION_CHECKPOINT'], tSize: 6.1, tPad: [2.8, 1.8], yW: 19, padR: 3, legH: 10, xH: 11, xTP: 0, xTB: 1.75,
  w: [62, 21.7, 5.6, 42.7], xMax: 35000, es: gC_es, hits: gC_hits, rank: gC_rank, esAxis: [-0.046, 1.017], rankAxis: [-0.48, 0.4], esTicks: esTicksC, rankTicks: rkTicksC,
  bar: gC_bar, zero: zeroC, pos: "'0/SO' (positively correlated)", neg: "'0/SO' (negatively correlated)", yTX: 6.3, legY: 166 };

// ---------------- Lollipop + colour bar ----------------
function lollipop() {
  const lines = lolGenes.map((g, i) => ({
    data: [{ x: 0, y: g }, { x: lolNegLogP[i], y: g }], showLine: true, borderColor: '#777', borderWidth: 0.9, borderDash: [2.6, 2.2], pointRadius: 0,
  }));
  const font = { family: FS, size: 8 };
  return {
    type: 'scatter',
    data: {
      datasets: [
        { data: lolGenes.map((g, i) => ({ x: lolNegLogP[i], y: g })), pointRadius: 3.4, pointBackgroundColor: lolLog2FC.map(rdbu), pointBorderColor: '#555', pointBorderWidth: 0.8 },
        ...lines,
      ],
    },
    options: {
      ...base,
      layout: { padding: { left: 0, top: 7, right: 3, bottom: 0 } },
      plugins: { legend: { display: false }, tooltip: { enabled: false } },
      scales: {
        x: {
          type: 'linear', min: -0.55, max: 9.8,
          afterBuildTicks: fixTicks(lolXTicks),
          ticks: { autoSkip: false, font, color: '#222', padding: 3 },
          grid: { display: false, drawTicks: false, tickLength: 0 }, border: { display: false },
          title: { display: true, text: '-log P adj', color: '#222', font: { family: FS, size: 8.5, lineHeight: 1 }, padding: { top: 0, bottom: 3 } },
          afterFit: (s: any) => { s.height = 26; },
        },
        y: {
          type: 'category', labels: lolGenes, offset: true,
          ticks: { autoSkip: false, font, color: '#222', padding: 3 },
          grid: { display: false, drawTicks: false, tickLength: 0 }, border: { display: false },
          afterFit: (s: any) => { s.width = 64; },
        },
      },
    },
    plugins: [{
      id: 'frame',
      beforeDatasetsDraw(chart: any) {
        const { ctx, chartArea: a } = chart;
        ctx.save(); ctx.strokeStyle = '#d8d8d8'; ctx.lineWidth = 1;
        ctx.strokeRect(a.left, a.top, a.right - a.left, a.bottom - a.top);
        ctx.restore();
      },
    }],
  };
}

function colorbar() {
  return {
    type: 'scatter',
    data: { datasets: [] },
    options: {
      ...base,
      layout: { padding: { left: 9, top: 10, right: 0, bottom: 5 } },
      plugins: { legend: { display: false }, tooltip: { enabled: false } },
      scales: {
        x: { display: false, min: 0, max: 1 },
        y: {
          position: 'right', min: cbTicks[0], max: cbTicks[cbTicks.length - 1],
          afterBuildTicks: fixTicks(cbTicks),
          ticks: { font: { family: FS, size: 8 }, color: '#222', padding: 0.8, callback: minus },
          grid: { drawOnChartArea: false, tickLength: 1.2, color: '#222', lineWidth: 0.6 },
          border: { display: false },
          afterFit: (s: any) => { s.width = 33; },
        },
      },
    },
    plugins: [{
      id: 'grad',
      beforeDatasetsDraw(chart: any) {
        const { ctx, chartArea: a, scales } = chart;
        const y = scales.y;
        const g = ctx.createLinearGradient(0, y.getPixelForValue(-10), 0, y.getPixelForValue(10));
        RDBU.forEach((c, k) => g.addColorStop(k / 10, c));
        ctx.save(); ctx.fillStyle = g;
        ctx.fillRect(a.left, a.top, a.right - a.left, a.bottom - a.top);
        ctx.restore();
      },
      afterDraw(chart: any) {
        const { ctx, chartArea: a } = chart;
        ctx.save();
        ctx.fillStyle = '#222'; ctx.font = `8px "${FS}"`;
        ctx.textAlign = 'center'; ctx.textBaseline = 'middle';
        ctx.translate(35, (a.top + a.bottom) / 2);
        ctx.rotate(-Math.PI / 2);
        ctx.fillText('log2 FC', 0, 0);
        ctx.restore();
      },
    }],
  };
}

// ---------------- React ----------------
function ChartCanvas({ box, make }: { box: number[]; make: () => any }) {
  const ref = useRef<HTMLCanvasElement | null>(null);
  useEffect(() => {
    if (!ref.current) return;
    const chart = new Chart(ref.current, make());
    return () => chart.destroy();
  }, []);
  const [l, t, w, h] = box;
  return <canvas ref={ref} width={w} height={h} style={{ position: 'absolute', left: l, top: t, width: w, height: h }} />;
}

const letter = (top: number): React.CSSProperties => ({
  position: 'absolute', left: 2, top, fontFamily: FS, fontSize: 15, lineHeight: '15px', color: '#111',
});

export default function App() {
  return (
    <div style={{ position: 'absolute', left: 0, top: 0, width: 685, height: 547, background: '#fff', overflow: 'hidden' }}>
      <ChartCanvas box={[0, 0, 175, 175]} make={() => volcano(VA)} />
      <ChartCanvas box={[0, 186, 175, 178]} make={() => volcano(VB)} />
      <ChartCanvas box={[0, 370, 175, 173]} make={() => volcano(VC)} />
      {[GA1, GA2, GA3, GB1, GB2, GB3, GC].map((g, i) => (
        <ChartCanvas key={i} box={g.box} make={() => gsea(g)} />
      ))}
      <ChartCanvas box={[380, 390, 160, 155]} make={lollipop} />
      <ChartCanvas box={[540, 405, 45, 106]} make={colorbar} />
      <div style={letter(1)}>A</div>
      <div style={letter(186)}>B</div>
      <div style={letter(370)}>C</div>
    </div>
  );
}
